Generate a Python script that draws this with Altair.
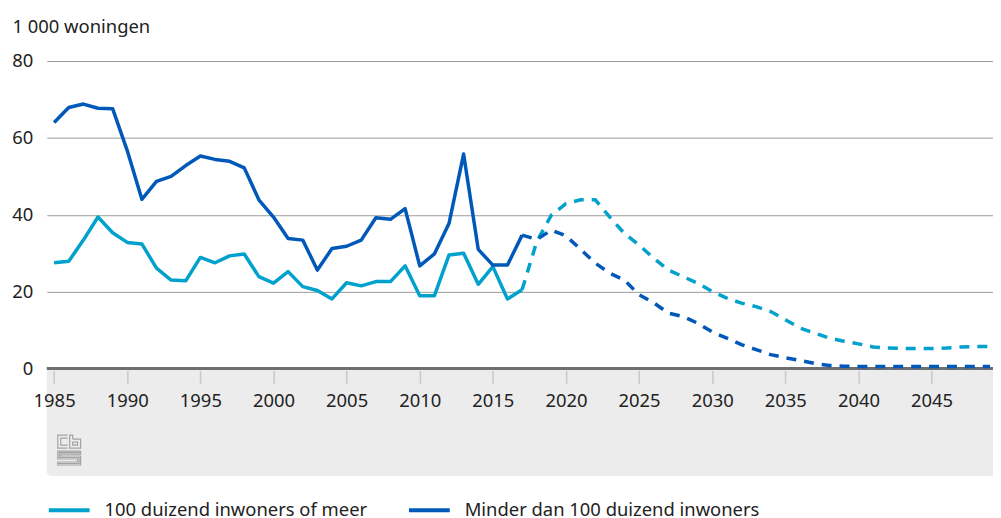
import altair as alt
import pandas as pd

# ---------------- data ----------------
years_actual = list(range(1985, 2018))
years_forecast = list(range(2017, 2050))

big_actual = [27.5, 27.9, 33.4, 39.4, 35.3, 32.8, 32.4, 26.1, 23.0, 22.8,
              28.9, 27.5, 29.3, 29.8, 23.9, 22.2, 25.2, 21.3, 20.3, 18.1,
              22.3, 21.5, 22.6, 22.6, 26.7, 18.9, 18.9, 29.5, 30.0, 21.9,
              26.5, 18.1, 20.5]
small_actual = [64.0, 67.9, 68.8, 67.7, 67.6, 56.7, 44.0, 48.7, 50.0, 52.8,
                55.3, 54.4, 53.9, 52.2, 43.9, 39.4, 33.8, 33.4, 25.6, 31.2,
                31.8, 33.4, 39.2, 38.8, 41.6, 26.7, 29.8, 37.7, 55.8, 31.0,
                26.9, 26.9, 34.7]
big_forecast = [20.5, 33.0, 39.9, 42.9, 43.9, 43.9, 39.4, 35.1, 32.1, 28.7,
                25.6, 23.9, 22.2, 20.0, 18.3, 17.0, 16.1, 14.8, 12.7, 10.5,
                9.2, 7.9, 7.1, 6.4, 5.6, 5.3, 5.2, 5.2, 5.2, 5.3,
                5.6, 5.7, 5.7]
small_forecast = [34.7, 33.6, 36.0, 34.5, 31.0, 27.4, 24.8, 23.0, 19.2, 17.1,
                  14.4, 13.5, 11.8, 9.5, 7.9, 6.2, 4.9, 3.6, 2.8, 2.1,
                  1.3, 0.8, 0.6, 0.5, 0.5, 0.5, 0.5, 0.5, 0.5, 0.5,
                  0.5, 0.5, 0.5]

series_names = ["100 duizend inwoners of meer", "Minder dan 100 duizend inwoners"]
series_colors = ["#00a1cd", "#0058b8"]
y_ticks = [0, 20, 40, 60, 80]
x_ticks = list(range(1985, 2050, 5))
y_title = "1 000 woningen"

# ---------------- tables ----------------
rows = []
for name, yrs, vals, kind in [
    (series_names[0], years_actual, big_actual, "actual"),
    (series_names[1], years_actual, small_actual, "actual"),
    (series_names[0], years_forecast, big_forecast, "forecast"),
    (series_names[1], years_forecast, small_forecast, "forecast"),
]:
    for yr, v in zip(yrs, vals):
        rows.append({"jaar": yr, "waarde": v, "reeks": name, "soort": kind})
df = pd.DataFrame(rows)
df_actual = df[df["soort"] == "actual"]
df_forecast = df[df["soort"] == "forecast"]

W, H = 951, 309
FONT = "Noto Sans"
FS = 18.5
TEXT = "#222222"

x_scale = alt.Scale(domain=[1984.5, 2049.2], nice=False, zero=False)
y_scale = alt.Scale(domain=[0, 80], nice=False)
color_scale = alt.Scale(domain=series_names, range=series_colors)

legend = alt.Legend(
    orient="none", legendX=0, legendY=429, direction="horizontal", title=None,
    symbolType="stroke", symbolSize=1681, symbolStrokeWidth=4,
    labelFontSize=FS, labelFont=FONT, labelColor=TEXT, labelOffset=13,
    columnPadding=33, labelLimit=400,
)

x_axis = alt.Axis(
    values=x_ticks, format="d", title=None, grid=False, domain=False,
    tickColor="#c8c8c8", tickSize=13, tickWidth=1.5, offset=2,
    labelFontSize=FS, labelFont=FONT, labelColor=TEXT, labelPadding=8,
    labelFlush=False, zindex=1,
)
y_axis = alt.Axis(
    values=y_ticks, title=y_title, titleAngle=0, titleAlign="left",
    titleBaseline="alphabetic", titleX=-35, titleY=-29, titleFontSize=FS,
    titleFont=FONT, titleFontWeight="normal", titleColor=TEXT,
    domain=False, ticks=False, grid=True, gridColor="#9a9a9a", gridWidth=1,
    labelFontSize=FS, labelFont=FONT, labelColor=TEXT, labelPadding=14,
)

# gray panel behind the x axis
panel = alt.Chart(pd.DataFrame({"a": [0]})).mark_rect(
    color="#ececec", cornerRadiusBottomLeft=5
).encode(x=alt.value(0), x2=alt.value(W), y=alt.value(H + 1), y2=alt.value(H + 108))

# logo (decoration, pixel coordinates)
logo_paths = {
    "c1": [(21, 376), (11, 376), (11, 389), (21, 389)],
    "c2": [(21, 379), (14, 379), (14, 386), (21, 386)],
    "b1": [(26, 380), (26, 376), (23, 376), (23, 389), (34, 389), (34, 380), (26, 380)],
    "b2": [(26, 383), (31, 383), (31, 386), (26, 386), (26, 383)],
    "s1": [(34, 392), (11, 392), (11, 400), (31, 400), (31, 403), (11, 403), (11, 406),
           (34, 406), (34, 397), (14, 397), (14, 395), (34, 395), (34, 392)],
    "s2": [(34, 393.5), (12.5, 393.5), (12.5, 398.5), (32.5, 398.5), (32.5, 404.5), (11, 404.5)],
}
logo_rows = []
for k, pts in logo_paths.items():
    for i, (px, py) in enumerate(pts):
        logo_rows.append({"p": k, "i": i, "px": px, "py": py})
logo = alt.Chart(pd.DataFrame(logo_rows)).mark_line(
    color="#a3a3a3", strokeWidth=1.2
).encode(
    x=alt.X("px:Q", scale=None, axis=None),
    y=alt.Y("py:Q", scale=None, axis=None),
    detail="p:N", order="i:Q",
)

zero = alt.Chart(pd.DataFrame({"v": [0]})).mark_rule(
    color="#6e6e6e", strokeWidth=3
).encode(y=alt.Y("v:Q", scale=y_scale), x=alt.value(0), x2=alt.value(W))

base_x = alt.X("jaar:Q", scale=x_scale, axis=x_axis)
base_y = alt.Y("waarde:Q", scale=y_scale, axis=y_axis)

actual = alt.Chart(df_actual).mark_line(strokeWidth=3.5, strokeJoin="round").encode(
    x=base_x, y=base_y,
    color=alt.Color("reeks:N", scale=color_scale, legend=legend),
)
forecast = alt.Chart(df_forecast).mark_line(
    strokeWidth=3.5, strokeDash=[10, 8]
).encode(
    x=base_x, y=base_y,
    color=alt.Color("reeks:N", scale=color_scale, legend=legend),
)

chart = alt.layer(panel, zero, actual, forecast, logo).resolve_scale(
    x="shared", y="shared"
).properties(
    width=W, height=H,
    autosize=alt.AutoSizeParams(type="none"),
    padding={"left": 39, "top": 52, "right": 0, "bottom": 149},
).configure(font=FONT).configure_view(stroke=None)

chart.save("out.html", embed_options={"renderer": "svg", "actions": False})
